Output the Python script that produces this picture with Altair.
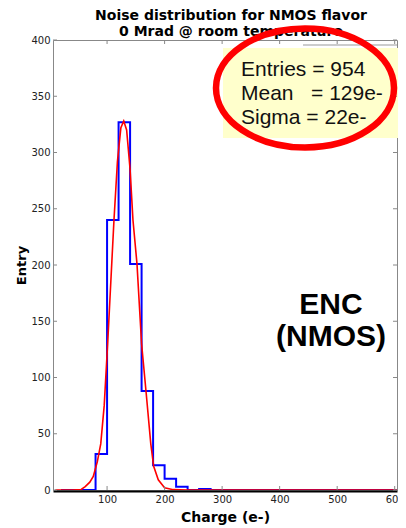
import altair as alt
import pandas as pd

# ---- values ----
bin_lo = [20, 40, 60, 80, 100, 120, 140, 160, 180, 200, 220, 240, 260, 280, 300,
          320, 340, 360, 380, 400, 420, 440, 460, 480, 500, 520, 540, 560, 580, 600, 620]
bin_count = [0, 0, 0, 32, 240, 327, 201, 88, 22, 10, 3, 0, 1, 0, 0,
             0, 0, 0, 0, 0, 0, 0, 0, 0, 0, 0, 0, 0, 0, 0, 0]

fit_x = [10, 40, 55, 62, 70, 76, 83, 89, 95, 101, 107, 112, 118, 124, 129, 134,
         140, 145, 152, 160, 168, 176, 181, 189, 200, 215, 240, 300, 400, 500, 620]
fit_y = [0, 0, 0.5, 3, 7, 12, 25, 41, 75, 130, 190, 240, 292, 322, 328, 320,
         285, 240, 201, 130, 86, 41, 21, 9, 2, 0.3, 0, 0, 0, 0, 0]

x_tick_vals = [100, 200, 300, 400, 500, 600]
y_tick_vals = [0, 50, 100, 150, 200, 250, 300, 350, 400]

title_lines = ["Noise distribution for NMOS flavor", "0 Mrad @ room temperature"]
stats_lines = ["Entries = 954", "Mean\u00a0\u00a0\u00a0= 129e-", "Sigma = 22e-"]
label_lines = ["ENC", "(NMOS)"]

W, H = 344, 450
XDOM = [6, 604]
YDOM = [0, 400]

hist_df = pd.DataFrame({"x": bin_lo, "y": bin_count})
fit_df = pd.DataFrame({"x": fit_x, "y": fit_y})
xt_df = pd.DataFrame({"x": x_tick_vals})
yt_df = pd.DataFrame({"y": y_tick_vals})
one = pd.DataFrame({"a": [0]})

xscale = alt.Scale(domain=XDOM, nice=False, zero=False)
yscale = alt.Scale(domain=YDOM, nice=False)

xaxis = alt.Axis(values=x_tick_vals, title="Charge (e-)", ticks=False,
                 grid=False, domainColor="black", domainWidth=2, offset=1,
                 labelPadding=3, labelFlush=False, labelFont="DejaVu Sans",
                 labelFontSize=10, labelColor="#222222",
                 titleFont="DejaVu Sans", titleFontSize=14,
                 titleFontWeight="bold", titleColor="black", titlePadding=6)
yaxis = alt.Axis(values=y_tick_vals, title="Entry", ticks=False, grid=False,
                 domain=False, labelPadding=3, labelFlush=False,
                 labelFont="DejaVu Sans", labelFontSize=10,
                 labelColor="#222222", titleFont="DejaVu Sans",
                 titleFontSize=13, titleFontWeight="bold",
                 titleColor="black", titlePadding=2)

X = alt.X("x:Q", scale=xscale, axis=xaxis)
Y = alt.Y("y:Q", scale=yscale, axis=yaxis)

box = alt.Chart(one).mark_rect(color="#ffffcc").encode(
    x=alt.value(170), x2=alt.value(W + 2), y=alt.value(8), y2=alt.value(98))
boxline = alt.Chart(one).mark_rule(color="#999999", strokeWidth=1).encode(
    x=alt.value(250), x2=alt.value(W), y=alt.value(5))

hist = alt.Chart(hist_df).mark_line(
    interpolate="step-after", color="#0000ff", strokeWidth=2, clip=True
).encode(x=X, y=Y)

fit = alt.Chart(fit_df).mark_line(color="#ff0000", strokeWidth=1.6, clip=True).encode(
    x=X, y=Y)

tick_col = "#888888"
ytl = alt.Chart(yt_df).mark_rule(color=tick_col).encode(
    y=Y, x=alt.value(0), x2=alt.value(4))
ytr = alt.Chart(yt_df).mark_rule(color=tick_col).encode(
    y=Y, x=alt.value(W - 4), x2=alt.value(W))
xtb = alt.Chart(xt_df).mark_rule(color=tick_col).encode(
    x=X, y=alt.value(H - 4), y2=alt.value(H))
xtt = alt.Chart(xt_df).mark_rule(color=tick_col).encode(
    x=X, y=alt.value(0), y2=alt.value(4))

title = alt.Chart(one).mark_text(
    font="DejaVu Sans", fontSize=14, fontWeight="bold", color="black",
    align="center", baseline="middle", lineHeight=16
).encode(x=alt.value(178), y=alt.value(-24.5), text=alt.value(title_lines))

stats = alt.Chart(one).mark_text(
    font="Liberation Sans", fontSize=21, color="#111111",
    align="left", baseline="middle", lineHeight=24
).encode(x=alt.value(188), y=alt.value(30), text=alt.value(stats_lines))

enc = alt.Chart(one).mark_text(
    font="Liberation Sans", fontSize=30, fontWeight="bold", color="black",
    align="center", baseline="middle", lineHeight=32
).encode(x=alt.value(278), y=alt.value(265), text=alt.value(label_lines))

ellipse_path = "M-1,0 A1,0.668,0,1,1,1,0 A1,0.668,0,1,1,-1,0 Z"
ellipse = alt.Chart(one).mark_point(
    shape=ellipse_path, filled=False, color="#ff0000", strokeWidth=6.5,
    opacity=1, size=178 * 178
).encode(x=alt.value(252), y=alt.value(48))

chart = alt.layer(
    box, boxline, hist, fit, ytl, ytr, xtb, xtt, title, stats, enc, ellipse
).properties(
    width=W, height=H,
    autosize=alt.AutoSizeParams(type="none"),
    padding={"left": 45, "top": 32, "right": 1, "bottom": 38},
).configure_view(stroke="#888888", strokeWidth=1)

chart.save("out.html", embed_options={"renderer": "svg", "actions": False})
